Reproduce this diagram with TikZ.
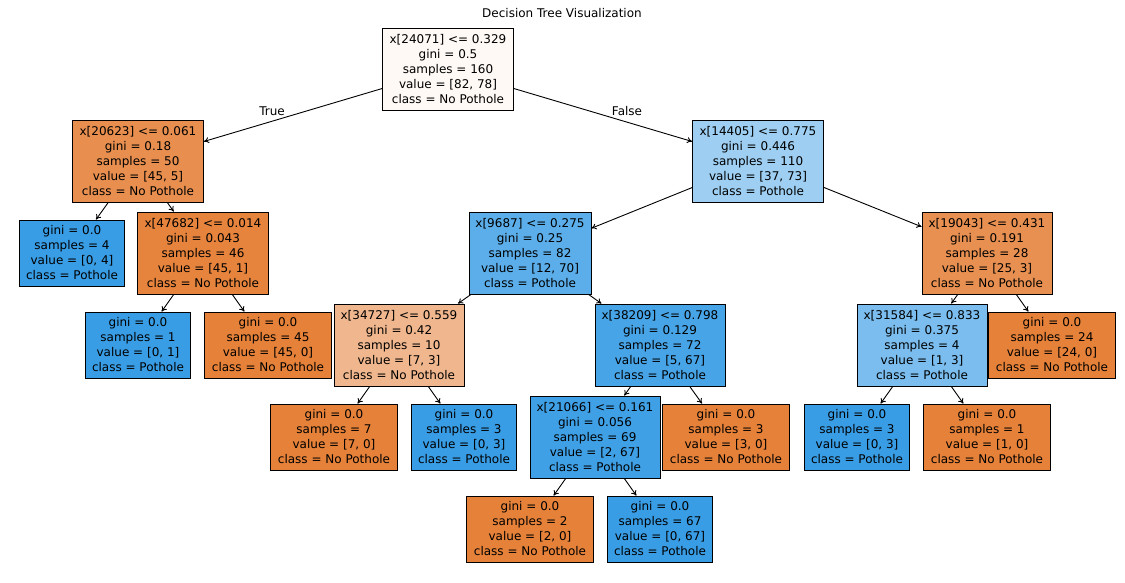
\documentclass[tikz,border=0pt]{standalone}
\usepackage{fontspec}
\setmainfont{DejaVu Sans}
\usetikzlibrary{arrows.meta}
\definecolor{oc}{HTML}{E58139}
\definecolor{bc}{HTML}{399DE5}
\begin{document}
\begin{tikzpicture}[x=1pt,y=-1pt,
  box/.style={draw=black,line width=0.9pt,align=center,inner sep=0pt,font=\fontsize{12}{15}\selectfont},
  edge/.style={line width=0.9pt,-{To[length=5pt,width=6pt]}},
  lab/.style={font=\fontsize{12}{14}\selectfont}]
\useasboundingbox (0,0) rectangle (1125,582);
\node[font=\fontsize{12}{14}\selectfont] (title) at (562,13) {Decision Tree Visualization};
\newcommand\bx[6]{\node[box,fill=#4,minimum width=#5pt,minimum height=#6pt] (#1) at (#2,#3)}
\bx{r}{448}{69}{oc!5}{131}{82} {x[24071] <= 0.329\\gini = 0.5\\samples = 160\\value = [82, 78]\\class = No Pothole};
\bx{a}{138}{161}{oc!89}{131}{82} {x[20623] <= 0.061\\gini = 0.18\\samples = 50\\value = [45, 5]\\class = No Pothole};
\bx{a1}{72}{253}{bc}{105}{66} {gini = 0.0\\samples = 4\\value = [0, 4]\\class = Pothole};
\bx{a2}{203}{253}{oc!98}{131}{82} {x[47682] <= 0.014\\gini = 0.043\\samples = 46\\value = [45, 1]\\class = No Pothole};
\bx{a21}{138}{345}{bc}{105}{66} {gini = 0.0\\samples = 1\\value = [0, 1]\\class = Pothole};
\bx{a22}{268}{345}{oc}{127}{66} {gini = 0.0\\samples = 45\\value = [45, 0]\\class = No Pothole};
\bx{b}{758}{161}{bc!49}{131}{82} {x[14405] <= 0.775\\gini = 0.446\\samples = 110\\value = [37, 73]\\class = Pothole};
\bx{b1}{530}{253}{bc!83}{122}{82} {x[9687] <= 0.275\\gini = 0.25\\samples = 82\\value = [12, 70]\\class = Pothole};
\bx{b2}{987}{253}{oc!88}{130}{82} {x[19043] <= 0.431\\gini = 0.191\\samples = 28\\value = [25, 3]\\class = No Pothole};
\bx{c1}{399}{345}{oc!57}{130}{82} {x[34727] <= 0.559\\gini = 0.42\\samples = 10\\value = [7, 3]\\class = No Pothole};
\bx{c2}{660}{345}{bc!93}{130}{82} {x[38209] <= 0.798\\gini = 0.129\\samples = 72\\value = [5, 67]\\class = Pothole};
\bx{c3}{922}{345}{bc!67}{130}{82} {x[31584] <= 0.833\\gini = 0.375\\samples = 4\\value = [1, 3]\\class = Pothole};
\bx{c4}{1052}{345}{oc}{127}{66} {gini = 0.0\\samples = 24\\value = [24, 0]\\class = No Pothole};
\bx{d1}{334}{437}{oc}{127}{66} {gini = 0.0\\samples = 7\\value = [7, 0]\\class = No Pothole};
\bx{d2}{464}{437}{bc}{105}{66} {gini = 0.0\\samples = 3\\value = [0, 3]\\class = Pothole};
\bx{d3}{595}{437}{bc!97}{130}{82} {x[21066] <= 0.161\\gini = 0.056\\samples = 69\\value = [2, 67]\\class = Pothole};
\bx{d4}{726}{437}{oc}{127}{66} {gini = 0.0\\samples = 3\\value = [3, 0]\\class = No Pothole};
\bx{d5}{857}{437}{bc}{105}{66} {gini = 0.0\\samples = 3\\value = [0, 3]\\class = Pothole};
\bx{d6}{987}{437}{oc}{127}{66} {gini = 0.0\\samples = 1\\value = [1, 0]\\class = No Pothole};
\bx{e1}{530}{529}{oc}{127}{66} {gini = 0.0\\samples = 2\\value = [2, 0]\\class = No Pothole};
\bx{e2}{660}{529}{bc}{105}{66} {gini = 0.0\\samples = 67\\value = [0, 67]\\class = Pothole};
\foreach \p/\c in {r/a,r/b,a/a1,a/a2,a2/a21,a2/a22,b/b1,b/b2,b1/c1,b1/c2,b2/c3,b2/c4,c1/d1,c1/d2,c2/d3,c2/d4,c3/d5,c3/d6,d3/e1,d3/e2}
  \draw[edge] (\p) -- (\c);
\node[lab] (t) at (272,111) {True};
\node[lab] (f) at (627,111) {False};
\end{tikzpicture}
\end{document}
